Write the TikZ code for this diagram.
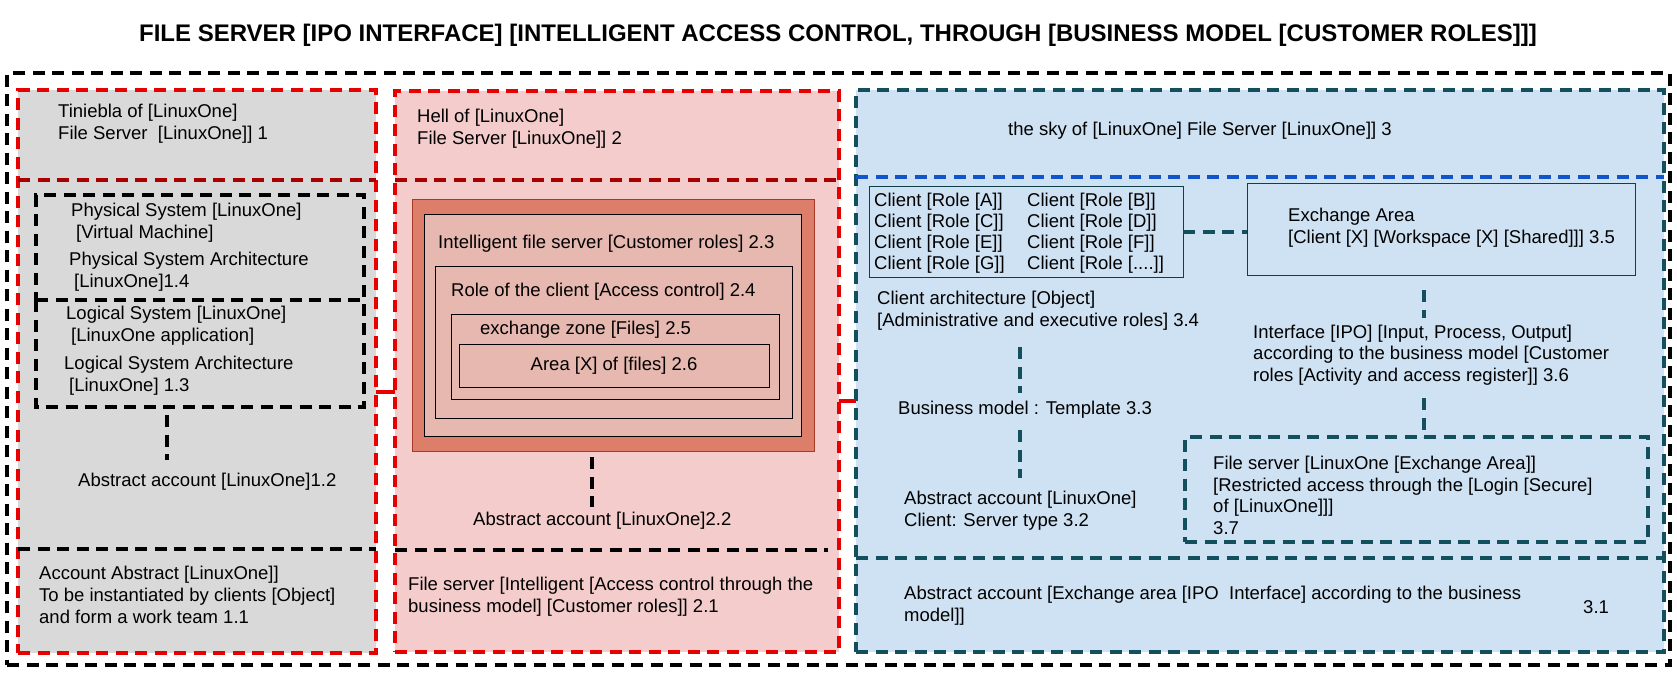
\documentclass[tikz,border=0pt]{standalone}
\usepackage{fontspec}
\setmainfont{Liberation Sans}
\usetikzlibrary{calc}
\definecolor{pgray}{HTML}{D9D9D9}
\definecolor{ppink}{HTML}{F4CCCC}
\definecolor{pblue}{HTML}{CFE2F3}
\definecolor{pred}{HTML}{E60000}
\definecolor{pdred}{HTML}{A80000}
\definecolor{pteal}{HTML}{134F5C}
\definecolor{pblueline}{HTML}{1155CC}
\definecolor{psalmon}{HTML}{DD7E6B}
\definecolor{psalmonline}{HTML}{A63A26}
\definecolor{pinner}{HTML}{E6B8AF}
\newcommand{\mybox}[6]{\node[#6, minimum width={(#4-#2)*1pt}, minimum height={(#5-#3)*1pt}] (#1) at (#2,#3) {};}
\begin{document}
\begin{tikzpicture}[x=1pt,y=-1pt,
  txt/.style={anchor=west,align=left,inner sep=0pt,font=\fontsize{18.5}{21.7}\selectfont},
  boxbase/.style={anchor=north west,inner sep=0pt,outer sep=0pt},
  dsh/.style={line width=3.1pt,dash pattern=on 12pt off 7.5pt},
  outerbox/.style={boxbase,draw=black,dsh},
  redpanel/.style={boxbase,draw=pred,dsh},
  tealpanel/.style={boxbase,draw=pteal,dsh},
  blackdash/.style={boxbase,draw=black,dsh},
  tealdash/.style={boxbase,draw=pteal,dsh},
  salmonbox/.style={boxbase,fill=psalmon,draw=psalmonline,line width=1pt},
  innerbox/.style={boxbase,fill=pinner,draw=black,line width=1pt},
  thinbox/.style={boxbase,draw=pteal!80!black,line width=1pt},
  conn/.style={dsh,draw=black},
  tconn/.style={dsh,draw=pteal},
  rconn/.style={line width=3.1pt,draw=pred},
]
\useasboundingbox (0,0) rectangle (1677,677);

% title
\node[inner sep=0pt,font=\fontsize{24}{28}\selectfont\bfseries] (title) at (838,35)
  {FILE SERVER [IPO INTERFACE] [INTELLIGENT ACCESS CONTROL, THROUGH [BUSINESS MODEL [CUSTOMER ROLES]]]};

% panel fills
\fill[pgray] (18,90) rectangle (376,653);
\fill[ppink] (395,91) rectangle (839,652);
\fill[pblue] (856,90) rectangle (1664,652);

% outer box
\mybox{outer}{7}{73}{1670}{665}{outerbox}

% panels
\mybox{lp}{18}{90}{376}{653}{redpanel}
\mybox{mp}{395}{91}{839}{652}{redpanel}
\mybox{rp}{856}{90}{1664}{652}{tealpanel}

% dividers
\draw[dsh,draw=pdred] (lp.west |- 0,180) -- (lp.east |- 0,180);
\draw[dsh,draw=black] (lp.west |- 0,549) -- (lp.east |- 0,549);
\draw[dsh,draw=pdred] (mp.west |- 0,180) -- (mp.east |- 0,180);
\draw[dsh,draw=black] (mp.west |- 0,550) -- (828,550);
\draw[dsh,draw=pblueline] (rp.west |- 0,177) -- (rp.east |- 0,177);
\draw[dsh,draw=pteal] (rp.west |- 0,558) -- (rp.east |- 0,558);

% red links between panels
\draw[rconn] (lp.east |- 0,392) -- (mp.west |- 0,392);
\draw[rconn] (mp.east |- 0,401) -- (rp.west |- 0,401);

% ---------- left panel ----------
\node[txt] (t1) at (58,124) {Tiniebla of [LinuxOne]\\File Server\ \ [LinuxOne]] 1};
\mybox{phys}{36}{195}{364}{300}{blackdash}
\mybox{logi}{36}{300}{364}{407}{boxbase}
\draw[dsh,draw=black] (logi.north west) -- (logi.south west) -- (logi.south east) -- (logi.north east);
\node[txt] (t14a) at (71,222.5) {Physical System [LinuxOne]\\\hspace*{5pt}[Virtual Machine]};
\node[txt] (t14b) at (69,272) {Physical System Architecture\\\hspace*{5pt}[LinuxOne]1.4};
\node[txt] (t13a) at (66,326) {Logical System [LinuxOne]\\\hspace*{5pt}[LinuxOne application]};
\node[txt] (t13b) at (64,375.5) {Logical System Architecture\\\hspace*{5pt}[LinuxOne] 1.3};
\node[txt] (t12) at (78,482) {Abstract account [LinuxOne]1.2};
\node[txt] (t11) at (39,595) {Account Abstract [LinuxOne]]\\To be instantiated by clients [Object]\\and form a work team 1.1};
\coordinate (c1a) at (167,415);
\coordinate (c1b) at (167,460);
\draw[conn] (c1a) -- (c1b);

% ---------- middle panel ----------
\node[txt] (t2) at (417,128.5) {Hell of [LinuxOne]\\File Server [LinuxOne]] 2};
\mybox{sal}{412}{199}{814}{451}{salmonbox}
\mybox{b23}{424}{214}{801}{436}{innerbox}
\mybox{b24}{435}{266}{792}{418}{innerbox}
\mybox{b25}{451}{314}{779}{399}{innerbox}
\mybox{b26}{459}{344}{769}{387}{innerbox}
\node[txt] (t23) at (438,244) {Intelligent file server [Customer roles] 2.3};
\node[txt] (t24) at (451,292) {Role of the client [Access control] 2.4};
\node[txt] (t25) at (480,330) {exchange zone [Files] 2.5};
\node[txt,anchor=center] (t26) at (b26.center) {Area [X] of [files] 2.6};
\node[txt] (t22) at (473,521) {Abstract account [LinuxOne]2.2};
\node[txt] (t21) at (408,596.5) {File server [Intelligent [Access control through the\\business model] [Customer roles]] 2.1};
\coordinate (c2a) at (592,457);
\coordinate (c2b) at (592,507);
\draw[conn] (c2a) -- (c2b);

% ---------- right panel ----------
\node[txt] (t3) at (1008,131) {the sky of [LinuxOne] File Server [LinuxOne]] 3};
\mybox{clients}{869}{186}{1183}{277}{thinbox}
\node[txt,font=\fontsize{18.5}{21}\selectfont] (cl1) at (874,233) {Client [Role [A]]\\Client [Role [C]]\\Client [Role [E]]\\Client [Role [G]]};
\node[txt,font=\fontsize{18.5}{21}\selectfont] (cl2) at (1027,233) {Client [Role [B]]\\Client [Role [D]]\\Client [Role [F]]\\Client [Role [....]]};
\mybox{exch}{1247}{183}{1635}{275}{thinbox}
\node[txt] (t35) at (1288,228) {Exchange Area\\{[}Client [X] [Workspace [X] [Shared]]] 3.5};
\draw[tconn] (clients.east |- 0,232) -- (exch.west |- 0,232);
\node[txt] (t34) at (877,311) {Client architecture [Object]\\{[}Administrative and executive roles] 3.4};
\node[txt] (t36) at (1253,355) {Interface [IPO] [Input, Process, Output]\\according to the business model [Customer\\roles [Activity and access register]] 3.6};
\node[txt] (t33) at (898,410) {Business model : Template 3.3};
\node[txt] (t32) at (904,511) {Abstract account [LinuxOne]\\Client: Server type 3.2};
\mybox{b37}{1185}{437}{1648}{542}{tealdash}
\node[txt] (t37) at (1213,495.5) {File server [LinuxOne [Exchange Area]]\\{[}Restricted access through the [Login [Secure]\\of [LinuxOne]]]\\3.7};
\node[txt] (t31) at (904,606) {Abstract account [Exchange area [IPO\ \ Interface] according to the business\\model]]};
\node[txt] (t31n) at (1583,607) {3.1};
\coordinate (c3a) at (1424,290);
\coordinate (c3b) at (1424,318);
\draw[tconn] (c3a) -- (c3b);
\coordinate (c3c) at (1424,398);
\draw[tconn] (c3c) -- (c3c |- b37.north);
\coordinate (c3d) at (1020,347);
\coordinate (c3e) at (1020,393);
\draw[tconn] (c3d) -- (c3e);
\coordinate (c3f) at (1020,430);
\coordinate (c3g) at (1020,478);
\draw[tconn] (c3f) -- (c3g);
\end{tikzpicture}
\end{document}
